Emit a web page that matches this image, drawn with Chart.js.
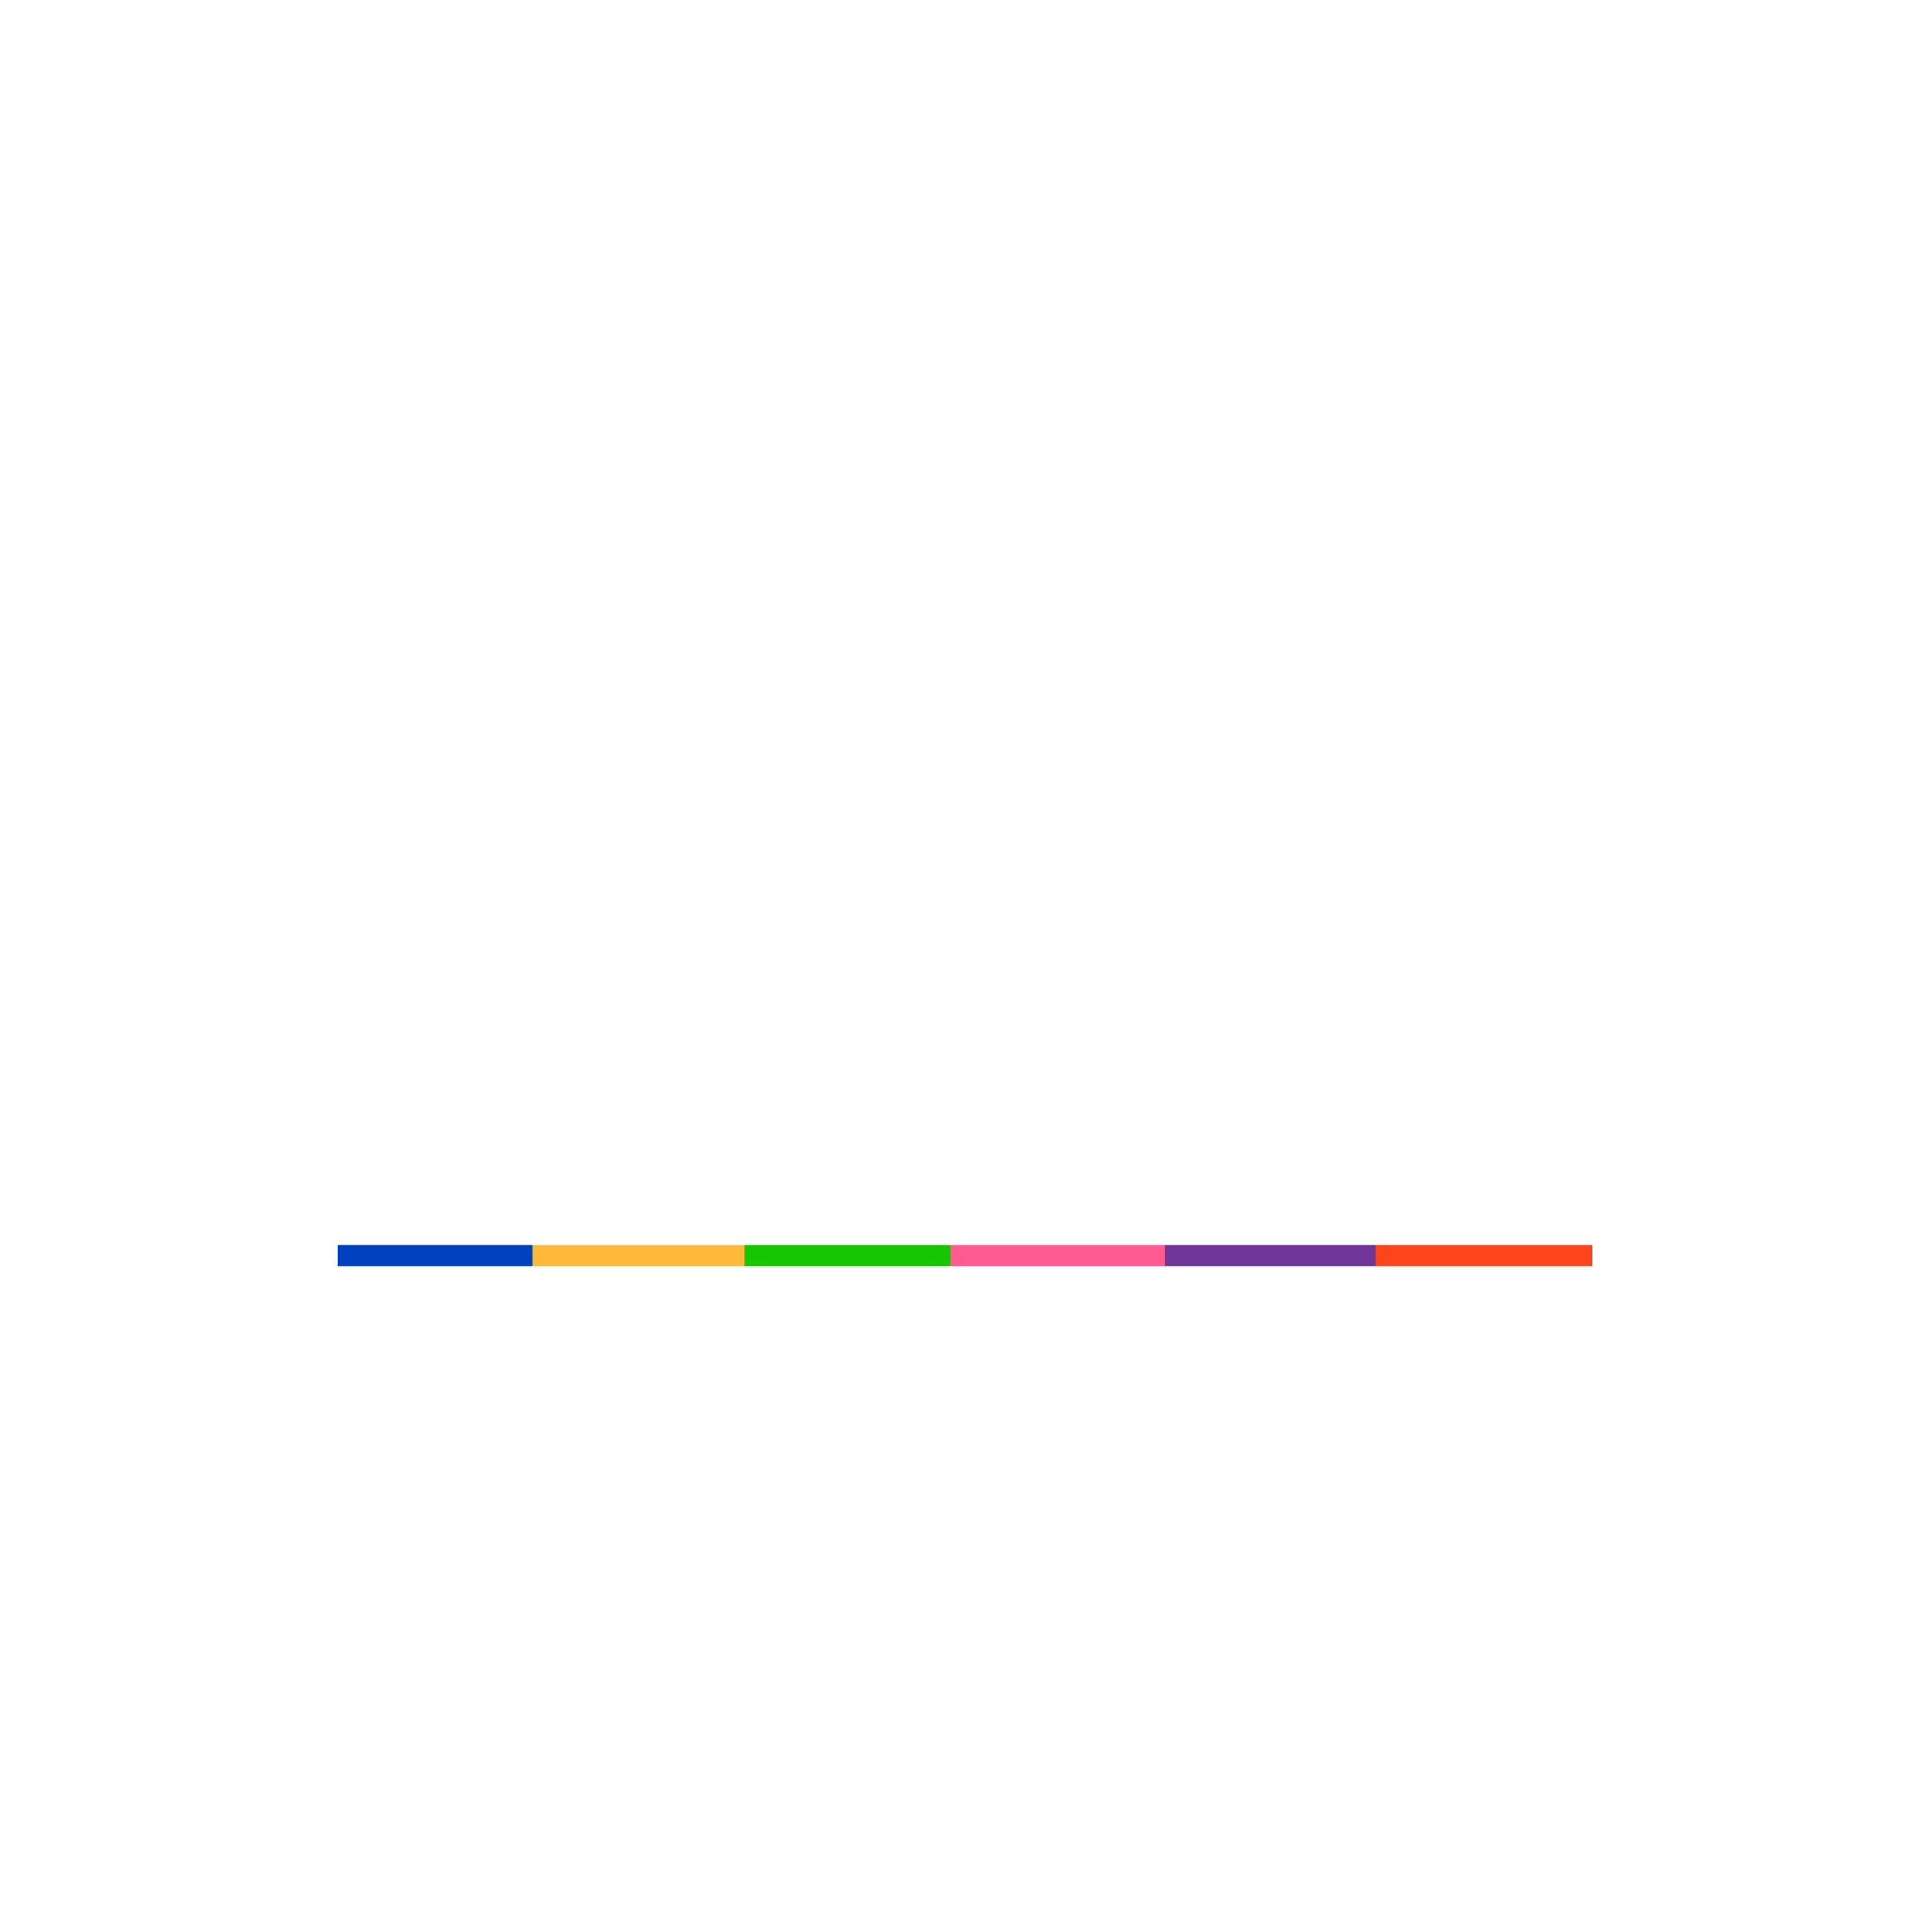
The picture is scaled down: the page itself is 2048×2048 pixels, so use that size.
<!DOCTYPE html>
<html>
<head>
<meta charset="utf-8">
<script src="https://cdn.jsdelivr.net/npm/chart.js@4/dist/chart.umd.min.js"></script>
<style>
  html, body { margin: 0; padding: 0; background: #fff; }
  canvas { display: block; }
</style>
</head>
<body>
<canvas id="myChart" width="2048" height="2048"></canvas>
<script>
// one stacked horizontal bar, six parts (shares, sum 100)
const categories = [""];
const seriesNames = ["A", "B", "C", "D", "E", "F"];
const seriesValues = [15.5, 16.9, 16.4, 17.1, 16.8, 17.3];
const seriesColors = ["#0041BF", "#FFB938", "#18C600", "#FF5A91", "#703599", "#FF461A"];

const total = seriesValues.reduce((a, b) => a + b, 0);

const datasets = seriesNames.map((name, i) => ({
    label: name,
    data: [seriesValues[i]],
    backgroundColor: seriesColors[i],
    borderWidth: 0,
    barThickness: 22
}));

const ctx = document.getElementById("myChart").getContext('2d');
const chart = new Chart(ctx, {
    type: 'bar',
    data: {
        labels: categories,
        datasets
    },
    options: {
        indexAxis: 'y',
        responsive: false,
        animation: false,
        devicePixelRatio: 1,
        layout: {
            padding: { left: 358, right: 360, top: 700, bottom: 86 }
        },
        plugins: {
            legend: { display: false },
            tooltip: { enabled: false }
        },
        scales: {
            x: { stacked: true, min: 0, max: total, display: false },
            y: { stacked: true, display: false }
        }
    }
});
</script>
</body>
</html>
